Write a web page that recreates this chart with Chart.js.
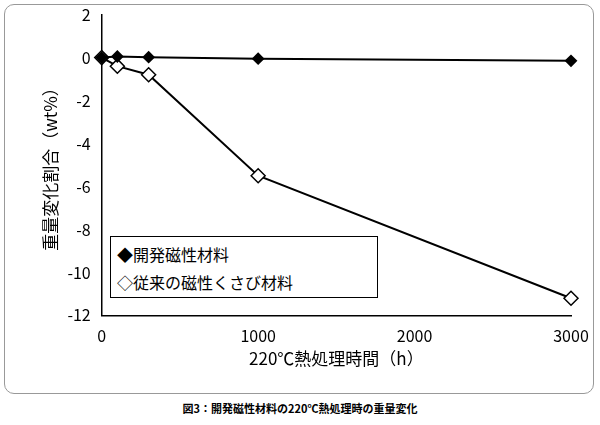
<!DOCTYPE html>
<html><head><meta charset="utf-8">
<script src="https://cdn.jsdelivr.net/npm/chart.js@4"></script>
<style>
body{margin:0;background:#fff;font-family:"Noto Sans CJK JP";}
#frame{position:absolute;left:4px;top:4px;width:590px;height:390px;border:1px solid #999;border-radius:10px;box-sizing:border-box;}
#wrap{position:absolute;left:5px;top:2px;width:588px;height:391px;}
#legend{position:absolute;left:110px;top:236px;width:268px;height:62px;border:1px solid #000;background:#fff;font-size:16px;line-height:28px;padding:3px 0 0 6px;box-sizing:border-box;}
#cap{position:absolute;left:0;top:400px;width:600px;text-align:center;font-size:11px;font-weight:bold;}
</style></head><body>
<div id="frame"></div>
<div id="wrap"><canvas id="c"></canvas></div>
<div id="legend"><div>◆開発磁性材料</div><div>◇従来の磁性くさび材料</div></div>
<div id="cap">図3：開発磁性材料の220℃熱処理時の重量変化</div>
<script>
const hours=[0,100,300,1000,3000];
const newMat=[0,0.05,0.02,-0.05,-0.15];
const oldMat=[0,-0.4,-0.8,-5.5,-11.2];
const labels=["開発磁性材料","従来の磁性くさび材料"];
const xy=v=>hours.map((h,i)=>({x:h,y:v[i]}));
new Chart(document.getElementById('c'),{type:'line',
data:{datasets:[
{label:labels[0],data:xy(newMat),borderColor:'#000',backgroundColor:'#000',pointStyle:'rectRot',pointRadius:5,borderWidth:2,clip:false},
{label:labels[1],data:xy(oldMat),borderColor:'#000',backgroundColor:'#fff',pointStyle:'rectRot',pointRadius:7,pointBorderWidth:1.5,borderWidth:2,clip:false}]},
options:{responsive:true,maintainAspectRatio:false,animation:false,
layout:{padding:{left:31,right:22,top:0,bottom:20}},
plugins:{legend:{display:false},tooltip:{enabled:false}},
scales:{
x:{type:'linear',min:0,max:3000,grid:{display:false,drawTicks:true},border:{color:'#000',width:1.5},
ticks:{stepSize:1000,color:'#000',font:{size:16,family:'Noto Sans CJK JP'},callback:v=>String(v)},
title:{display:true,text:'220℃熱処理時間（h）',color:'#000',font:{size:17,family:'Noto Sans CJK JP'},padding:{top:0}}},
y:{min:-12,max:2,grid:{display:false},border:{color:'#000',width:1.5},
ticks:{stepSize:2,color:'#000',font:{size:16,family:'Noto Sans CJK JP'},callback:v=>String(v)},
title:{display:true,text:'重量変化割合（wt%）',color:'#000',font:{size:17,family:'Noto Sans CJK JP'}}}}}});
</script></body></html>
